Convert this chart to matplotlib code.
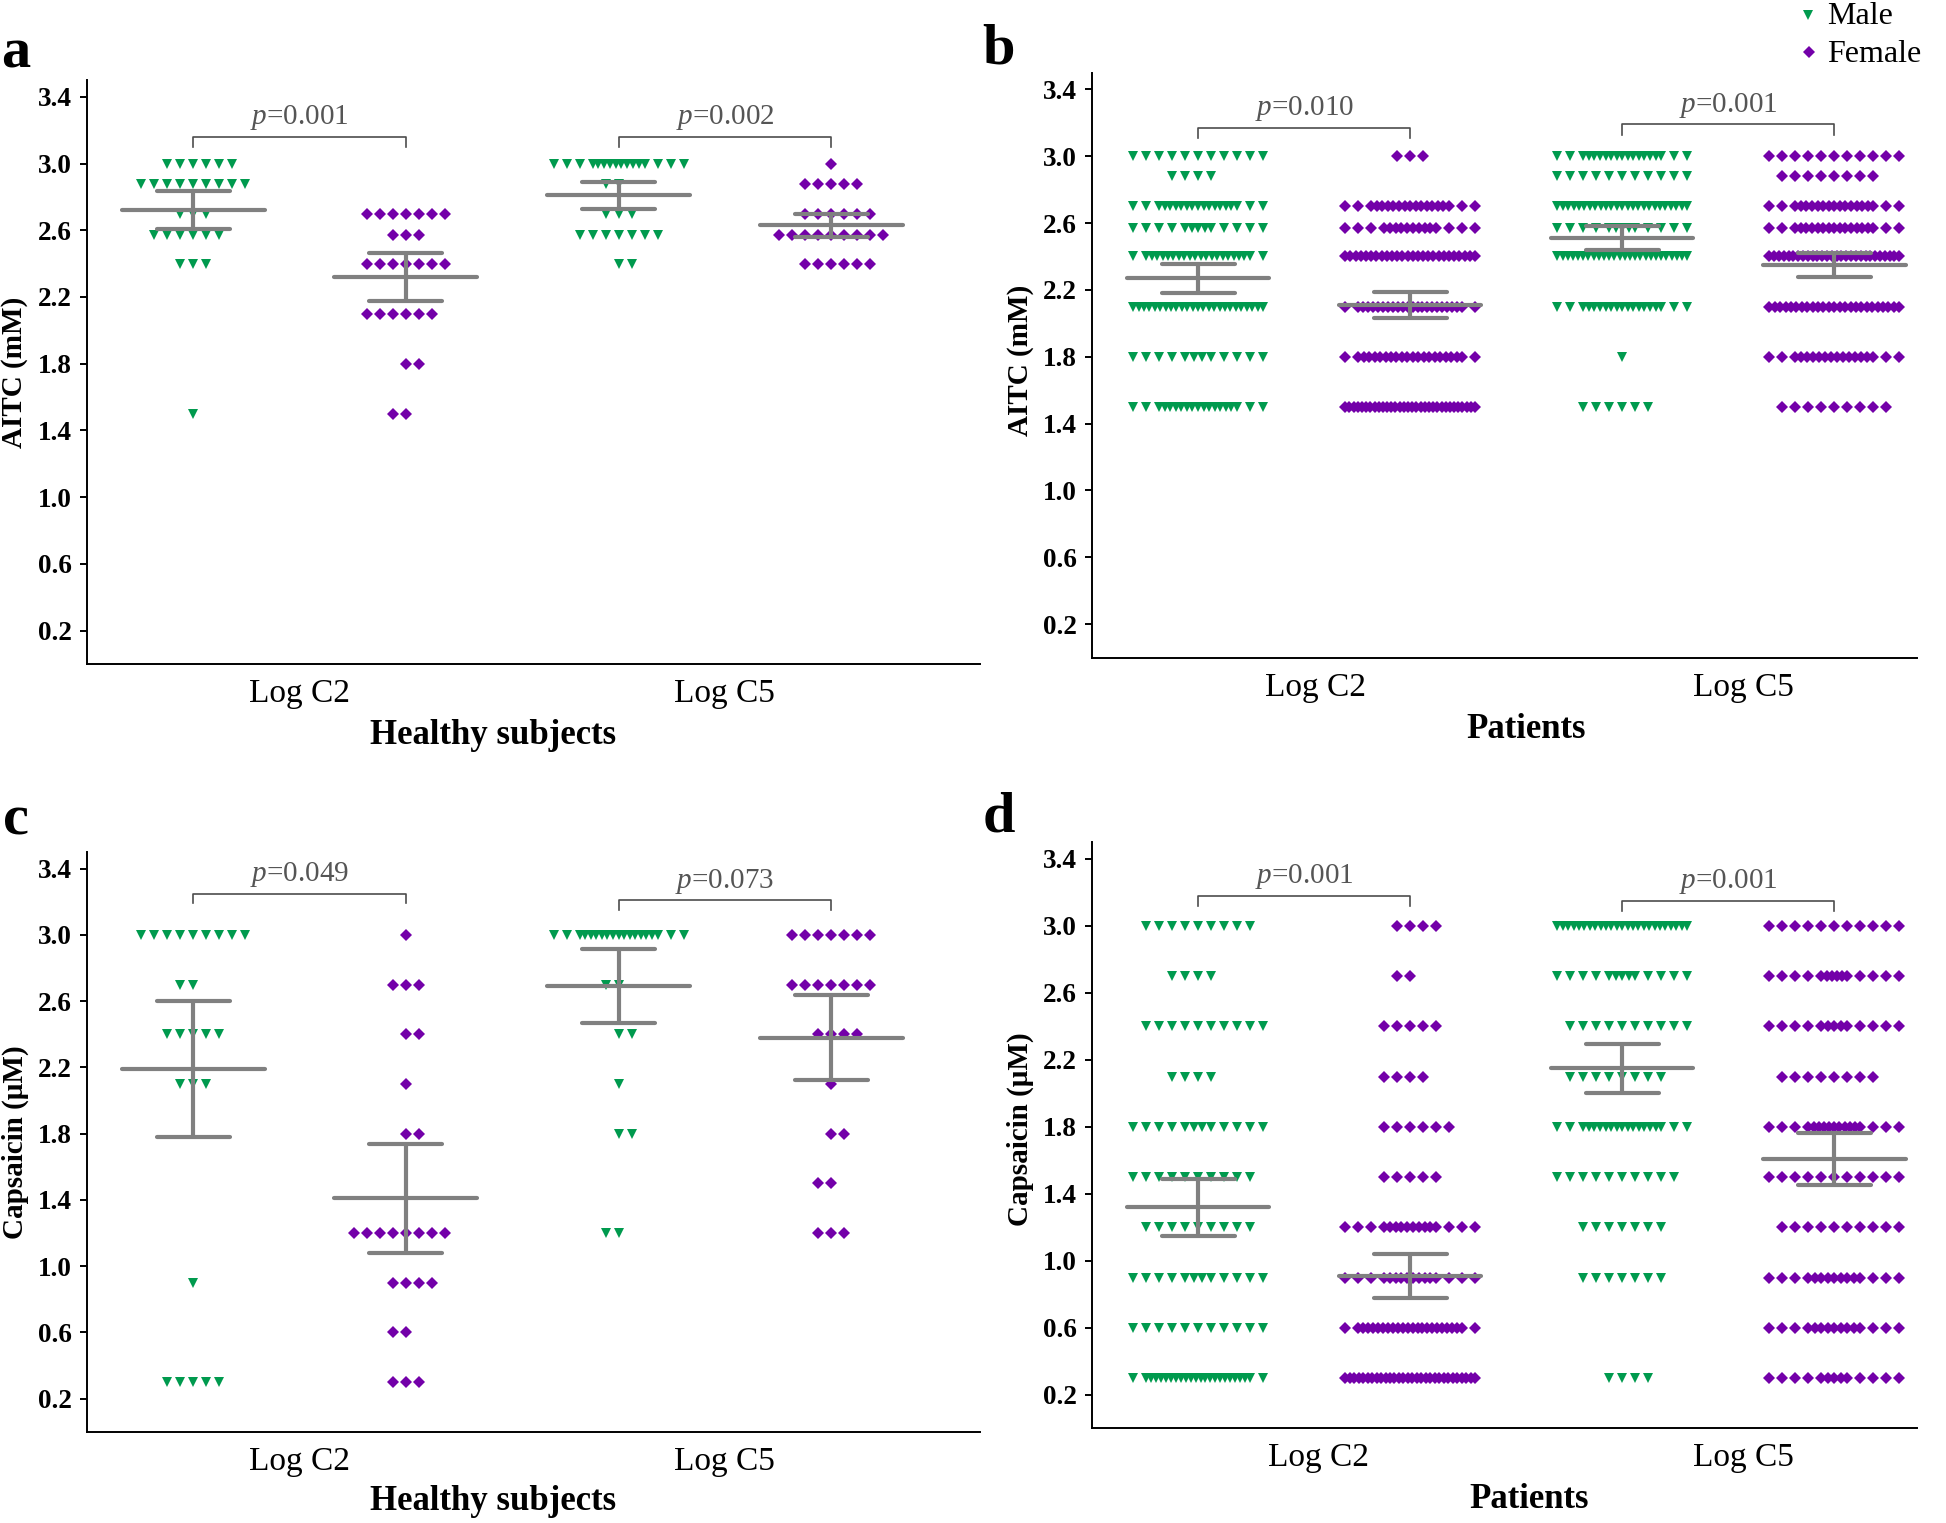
import matplotlib
matplotlib.use("Agg")
import matplotlib.pyplot as plt
from matplotlib.lines import Line2D
import numpy as np

plt.rcParams["font.family"] = ["Liberation Serif", "DejaVu Serif"]
plt.rcParams["mathtext.fontset"] = "custom"
plt.rcParams["mathtext.rm"] = "Liberation Serif"
plt.rcParams["mathtext.it"] = "Liberation Serif:italic"

GREEN = "#009a4e"
PURPLE = "#7300a9"
GRAY = "#808080"

# ---- data: log levels and number of subjects on each level ----
# panel a: healthy subjects, AITC
a_m_c2_lv = [3.0, 2.88, 2.7, 2.57, 2.4, 1.5]
a_m_c2_n = [6, 9, 3, 6, 3, 1]
a_f_c2_lv = [2.7, 2.57, 2.4, 2.1, 1.8, 1.5]
a_f_c2_n = [7, 3, 7, 6, 2, 2]
a_m_c5_lv = [3.0, 2.88, 2.7, 2.57, 2.4]
a_m_c5_n = [16, 2, 3, 7, 2]
a_f_c5_lv = [3.0, 2.88, 2.7, 2.57, 2.4]
a_f_c5_n = [1, 5, 6, 9, 6]
a_mean = [2.72, 2.32, 2.81, 2.63]
a_sem = [0.115, 0.145, 0.082, 0.07]
a_p = ["0.001", "0.002"]

# panel b: patients, AITC
b_m_c2_lv = [3.0, 2.88, 2.7, 2.57, 2.4, 2.1, 1.8, 1.5]
b_m_c2_n = [11, 4, 19, 13, 22, 25, 12, 19]
b_f_c2_lv = [3.0, 2.7, 2.57, 2.4, 2.1, 1.8, 1.5]
b_f_c2_n = [3, 19, 16, 26, 24, 22, 32]
b_m_c5_lv = [3.0, 2.88, 2.7, 2.57, 2.4, 2.1, 1.8, 1.5]
b_m_c5_n = [19, 11, 25, 13, 26, 19, 1, 6]
b_f_c5_lv = [3.0, 2.88, 2.7, 2.57, 2.4, 2.1, 1.8, 1.5]
b_f_c5_n = [11, 8, 19, 19, 28, 25, 18, 9]
b_mean = [2.27, 2.11, 2.51, 2.35]
b_sem = [0.087, 0.08, 0.07, 0.07]
b_p = ["0.010", "0.001"]

# panel c: healthy subjects, capsaicin
c_m_c2_lv = [3.0, 2.7, 2.4, 2.1, 0.9, 0.3]
c_m_c2_n = [9, 2, 5, 3, 1, 5]
c_f_c2_lv = [3.0, 2.7, 2.4, 2.1, 1.8, 1.2, 0.9, 0.6, 0.3]
c_f_c2_n = [1, 3, 2, 1, 2, 8, 4, 2, 3]
c_m_c5_lv = [3.0, 2.7, 2.4, 2.1, 1.8, 1.2]
c_m_c5_n = [19, 2, 2, 1, 2, 2]
c_f_c5_lv = [3.0, 2.7, 2.4, 2.1, 1.8, 1.5, 1.2]
c_f_c5_n = [7, 7, 4, 1, 2, 2, 3]
c_mean = [2.19, 1.41, 2.69, 2.38]
c_sem = [0.41, 0.33, 0.225, 0.256]
c_p = ["0.049", "0.073"]

# panel d: patients, capsaicin
d_m_c2_lv = [3.0, 2.7, 2.4, 2.1, 1.8, 1.5, 1.2, 0.9, 0.6, 0.3]
d_m_c2_n = [9, 4, 10, 4, 12, 10, 9, 12, 11, 24]
d_f_c2_lv = [3.0, 2.7, 2.4, 2.1, 1.8, 1.5, 1.2, 0.9, 0.6, 0.3]
d_f_c2_n = [4, 2, 5, 4, 6, 5, 16, 16, 24, 30]
d_m_c5_lv = [3.0, 2.7, 2.4, 2.1, 1.8, 1.5, 1.2, 0.9, 0.3]
d_m_c5_n = [25, 13, 10, 8, 19, 10, 7, 7, 4]
d_f_c5_lv = [3.0, 2.7, 2.4, 2.1, 1.8, 1.5, 1.2, 0.9, 0.6, 0.3]
d_f_c5_n = [11, 14, 13, 8, 17, 11, 10, 15, 15, 13]
d_mean = [1.32, 0.91, 2.15, 1.61]
d_sem = [0.17, 0.13, 0.146, 0.155]
d_p = ["0.001", "0.001"]

categories = ["Log C2", "Log C5"]
y_ticks = [0.2, 0.6, 1.0, 1.4, 1.8, 2.2, 2.6, 3.0, 3.4]

# ---- layout ----
W, H = 1946, 1523
fig = plt.figure(figsize=(W / 100, H / 100), dpi=100)

SLOT = 13 / 212.5      # spacing between neighbouring dots (data units)
MAXHALF = 5            # dots per side before compressing
MEAN_HW = 0.336
CAP_HW = 0.172
TRI_MS, DIA_MS = 7.4, 6.2


def row_offsets(n, flip):
    if n <= 2 * MAXHALF + 1:
        k = np.arange(n) - (n - 1) // 2
        if flip and n % 2 == 0:
            k = -k
        return k * SLOT
    # keep some dots at normal spacing at both ends, squeeze the middle
    for k in range(MAXHALF, -1, -1):
        m = n - 2 * k
        span = 2 * (MAXHALF - k)
        if m > 1 and span / (m - 1) >= 0.38:
            outer = np.arange(MAXHALF - k + 1, MAXHALF + 1)
            inner = np.linspace(-(MAXHALF - k), MAXHALF - k, m)
            return np.concatenate([-outer, inner, outer]) * SLOT
    return np.linspace(-MAXHALF, MAXHALF, n) * SLOT


def px_axes(x0, x1, ytop, ybot):
    return fig.add_axes([x0 / W, 1 - ybot / H, (x1 - x0) / W, (ybot - ytop) / H])


def draw_panel(ax, groups, means, sems, pvals, brackets, xmax, cat_x):
    for gi, (lv, cnt) in enumerate(groups):
        c = gi + 1
        male = gi % 2 == 0
        for ri, (y, n) in enumerate(zip(lv, cnt)):
            xs = c + row_offsets(n, ri % 2 == 1)
            ax.plot(xs, [y] * n, ls="none",
                    marker="v" if male else "D",
                    ms=TRI_MS if male else DIA_MS, mew=0,
                    color=GREEN if male else PURPLE, zorder=2)
        m, s = means[gi], sems[gi]
        kw = dict(color=GRAY, lw=3.0, solid_capstyle="round", zorder=3)
        ax.plot([c - MEAN_HW, c + MEAN_HW], [m, m], **kw)
        ax.plot([c, c], [m - s, m + s], **kw)
        ax.plot([c - CAP_HW, c + CAP_HW], [m + s, m + s], **kw)
        ax.plot([c - CAP_HW, c + CAP_HW], [m - s, m - s], **kw)
    for bi, (p, yb) in enumerate(zip(pvals, brackets)):
        x1, x2 = 2 * bi + 1, 2 * bi + 2
        ax.plot([x1, x1, x2, x2], [yb - 0.06, yb, yb, yb - 0.06],
                color="#4d4d4d", lw=1.2, zorder=3)
        ax.text((x1 + x2) / 2, yb + 0.115, r"$\it{p}$=" + p, ha="center",
                va="center", fontsize=21, color="#555555")
    ax.set_xlim(0.5, xmax)
    ax.set_ylim(0, 3.5)
    ax.set_yticks(y_ticks)
    ax.set_yticklabels([f"{t:.1f}" for t in y_ticks], fontweight="bold", fontsize=19.5)
    ax.set_xticks(cat_x)
    ax.set_xticklabels(categories, fontsize=24)
    ax.tick_params(axis="x", length=0, pad=10.5)
    ax.tick_params(axis="y", length=5, width=1.4, pad=6)
    for sp in ["top", "right"]:
        ax.spines[sp].set_visible(False)
    for sp in ["left", "bottom"]:
        ax.spines[sp].set_linewidth(1.4)


panels = [
    ("a", (87, 980, 80.1, 664), 4.7, [1.5, 3.5],
     [(a_m_c2_lv, a_m_c2_n), (a_f_c2_lv, a_f_c2_n), (a_m_c5_lv, a_m_c5_n), (a_f_c5_lv, a_f_c5_n)],
     a_mean, a_sem, a_p, [3.16, 3.16], "AITC (mM)", "Healthy subjects",
     (16, 68), (15, 372), (493, 735)),
    ("b", (1092, 1917, 72.7, 657.5), 4.39, [1.555, 3.57],
     [(b_m_c2_lv, b_m_c2_n), (b_f_c2_lv, b_f_c2_n), (b_m_c5_lv, b_m_c5_n), (b_f_c5_lv, b_f_c5_n)],
     b_mean, b_sem, b_p, [3.17, 3.19], "AITC (mM)", "Patients",
     (999, 64), (1020, 360), (1526, 730)),
    ("c", (87, 980, 852.1, 1431.7), 4.7, [1.5, 3.5],
     [(c_m_c2_lv, c_m_c2_n), (c_f_c2_lv, c_f_c2_n), (c_m_c5_lv, c_m_c5_n), (c_f_c5_lv, c_f_c5_n)],
     c_mean, c_sem, c_p, [3.25, 3.21], "Capsaicin (μM)", "Healthy subjects",
     (16, 834), (15, 1142), (493, 1502)),
    ("d", (1092, 1917, 842, 1428.3), 4.39, [1.57, 3.57],
     [(d_m_c2_lv, d_m_c2_n), (d_f_c2_lv, d_f_c2_n), (d_m_c5_lv, d_m_c5_n), (d_f_c5_lv, d_f_c5_n)],
     d_mean, d_sem, d_p, [3.18, 3.15], "Capsaicin (μM)", "Patients",
     (999, 831), (1020, 1129), (1529, 1499)),
]

for (letter, box, xmax, cat_x, groups, means, sems, pvals, brackets,
     ylab, xlab, let_xy, ylab_xy, xlab_xy) in panels:
    ax = px_axes(*box)
    draw_panel(ax, groups, means, sems, pvals, brackets, xmax, cat_x)
    fig.text(let_xy[0] / W, 1 - let_xy[1] / H, letter, fontsize=42,
             fontweight="bold", ha="center", va="baseline")
    fig.text(ylab_xy[0] / W, 1 - ylab_xy[1] / H, ylab, fontsize=21,
             fontweight="bold", rotation=90, ha="center", va="center")
    fig.text(xlab_xy[0] / W, 1 - xlab_xy[1] / H, xlab, fontsize=25,
             fontweight="bold", ha="center", va="center")

# legend (top right)
for (mx, my), mk, ms, col, lab in [((1808, 15), "v", TRI_MS, GREEN, "Male"),
                                   ((1809, 52), "D", DIA_MS, PURPLE, "Female")]:
    fig.add_artist(Line2D([mx / W], [1 - my / H], transform=fig.transFigure,
                          ls="none", marker=mk, ms=ms, mew=0, color=col))
    fig.text(1827 / W, 1 - (my + 2) / H, lab, fontsize=23, ha="left", va="center")

fig.savefig("out.png", dpi=100)
